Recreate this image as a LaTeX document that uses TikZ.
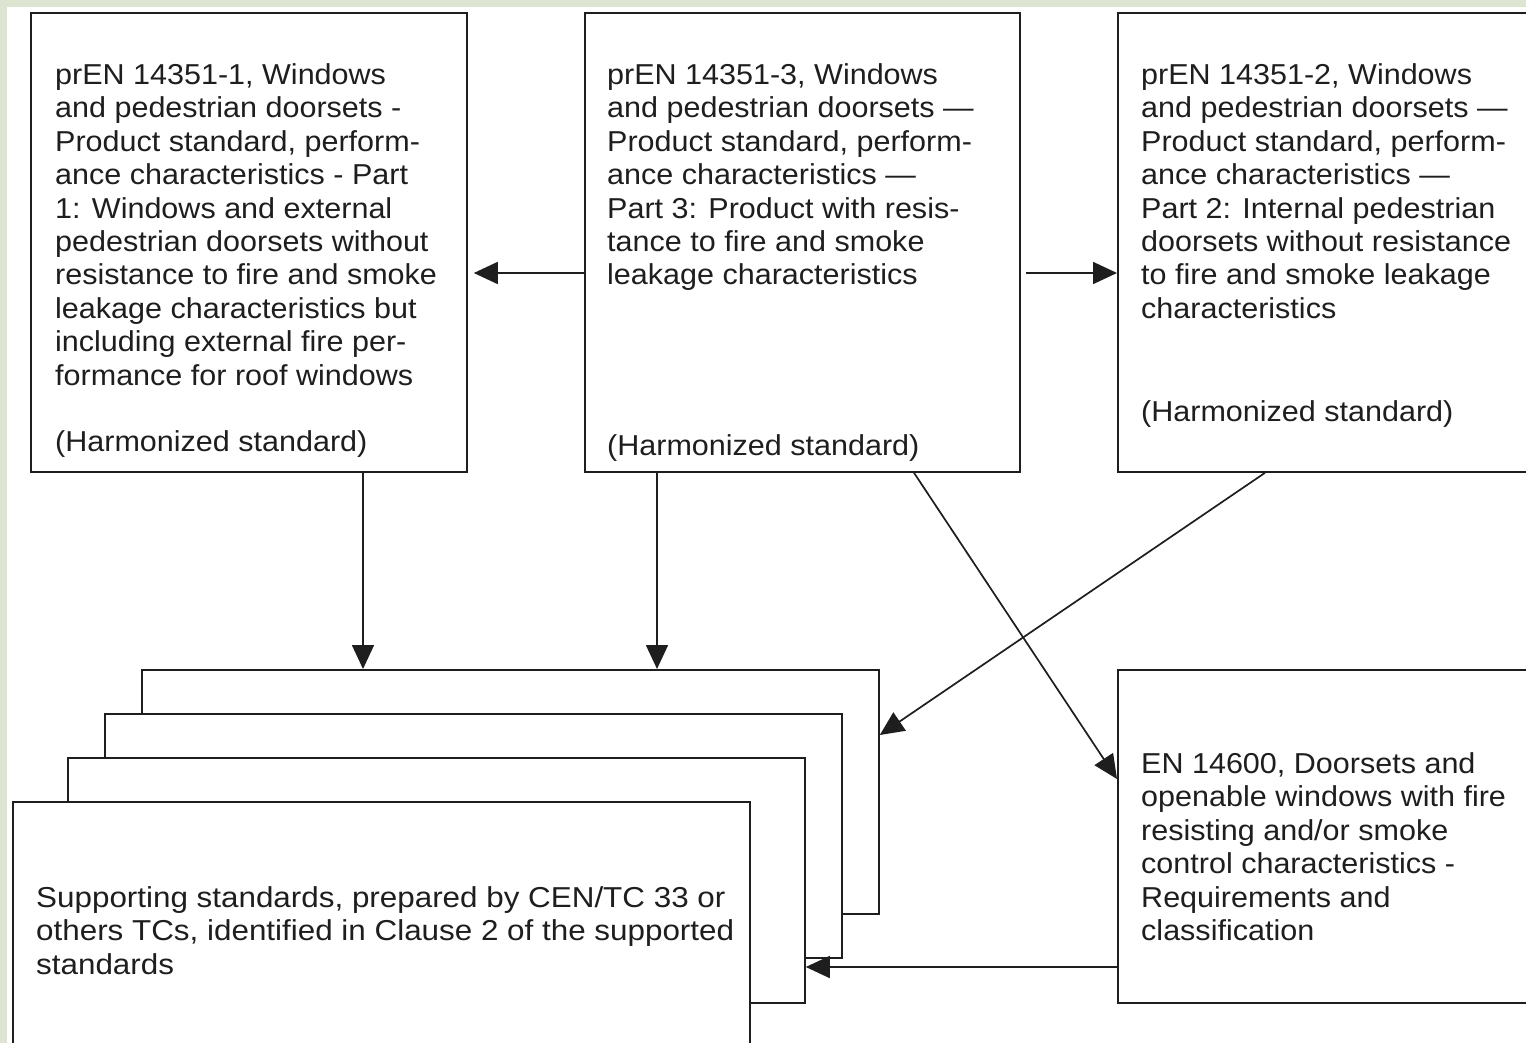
\documentclass[tikz,border=0pt]{standalone}
\usepackage{fontspec}
\usetikzlibrary{arrows.meta}
\newfontfamily\arialw[FakeStretch=1.06]{Liberation Sans}
\newfontfamily\arialx[FakeStretch=1.09]{Liberation Sans}
\definecolor{bgsage}{RGB}{221,228,209}
\definecolor{inkc}{RGB}{30,30,30}
\tikzset{
  boxframe/.style={draw=inkc, line width=1.8pt, fill=white, rectangle, anchor=north west, inner sep=0pt},
  txt/.style={font=\arialw\fontsize{28.8}{33.4}\selectfont, text=inkc, align=left, inner sep=0pt, anchor=north west},
  txtline/.style={font=\arialw\fontsize{28.8}{33.4}\selectfont, text=inkc, inner sep=0pt, anchor=base west},
  arr/.style={draw=inkc, line width=1.7pt, -{Triangle[length=24pt,width=22pt]}}
}
\begin{document}
\begin{tikzpicture}[x=1pt,y=-1pt]
\clip (0,0) rectangle (1526,1043);
\fill[bgsage] (0,0) rectangle (1526,1043);
\fill[white] (7,7) rectangle (1540,1060);
% top boxes
\node[boxframe, minimum width=436pt, minimum height=459pt] (A) at (30,12) {};
\node[boxframe, minimum width=435pt, minimum height=459pt] (B) at (584,12) {};
\node[boxframe, minimum width=460pt, minimum height=459pt] (C) at (1117,12) {};
% EN 14600 box
\node[boxframe, minimum width=460pt, minimum height=333pt] (D) at (1117,669) {};
% stack of supporting standards
\node[boxframe, minimum width=737pt, minimum height=244pt] (S1) at (141,669) {};
\node[boxframe, minimum width=737pt, minimum height=244pt] (S2) at (104,713) {};
\node[boxframe, minimum width=737pt, minimum height=245pt] (S3) at (67,757) {};
\node[boxframe, minimum width=737pt, minimum height=270pt] (S4) at (12,801) {};
% texts
\node[txt] (At) at (55,63.4) {prEN 14351-1, Windows\\and pedestrian doorsets -\\Product standard, perform-\\ance characteristics - Part\\1: Windows and external\\pedestrian doorsets without\\resistance to fire and smoke\\leakage characteristics but\\including external fire per-\\formance for roof windows};
\node[txtline] (Ah) at (55,451) {(Harmonized standard)};
\node[txt] (Bt) at (607,63.4) {prEN 14351-3, Windows\\and pedestrian doorsets —\\Product standard, perform-\\ance characteristics —\\Part 3: Product with resis-\\tance to fire and smoke\\leakage characteristics};
\node[txtline] (Bh) at (607,455) {(Harmonized standard)};
\node[txt] (Ct) at (1141,63.4) {prEN 14351-2, Windows\\and pedestrian doorsets —\\Product standard, perform-\\ance characteristics —\\Part 2: Internal pedestrian\\doorsets without resistance\\to fire and smoke leakage\\characteristics};
\node[txtline] (Ch) at (1141,421) {(Harmonized standard)};
\node[txt] (Dt) at (1141,752.4) {EN 14600, Doorsets and\\openable windows with fire\\resisting and/or smoke\\control characteristics -\\Requirements and\\classification};
\node[txt, font=\arialx\fontsize{28.8}{33.4}\selectfont] (St) at (36,886.4) {Supporting standards, prepared by CEN/TC 33 or\\others TCs, identified in Clause 2 of the supported\\standards};
% connectors
\draw[arr, shorten >=6pt] (B.west |- 0,273) -- (A.east |- 0,273);
\draw[arr, shorten <=5pt] (B.east |- 0,273) -- (C.west |- 0,273);
\draw[arr] (A.south -| 363,0) -- (S1.north -| 363,0);
\draw[arr] (B.south -| 657,0) -- (S1.north -| 657,0);
\draw[arr] (B.south -| 914,0) -- (D.west |- 0,779);
\draw[arr] (C.south -| 1265,0) -- (S1.east |- 0,735);
\draw[arr] (D.west |- 0,967) -- (S3.east |- 0,967);
\end{tikzpicture}
\end{document}
